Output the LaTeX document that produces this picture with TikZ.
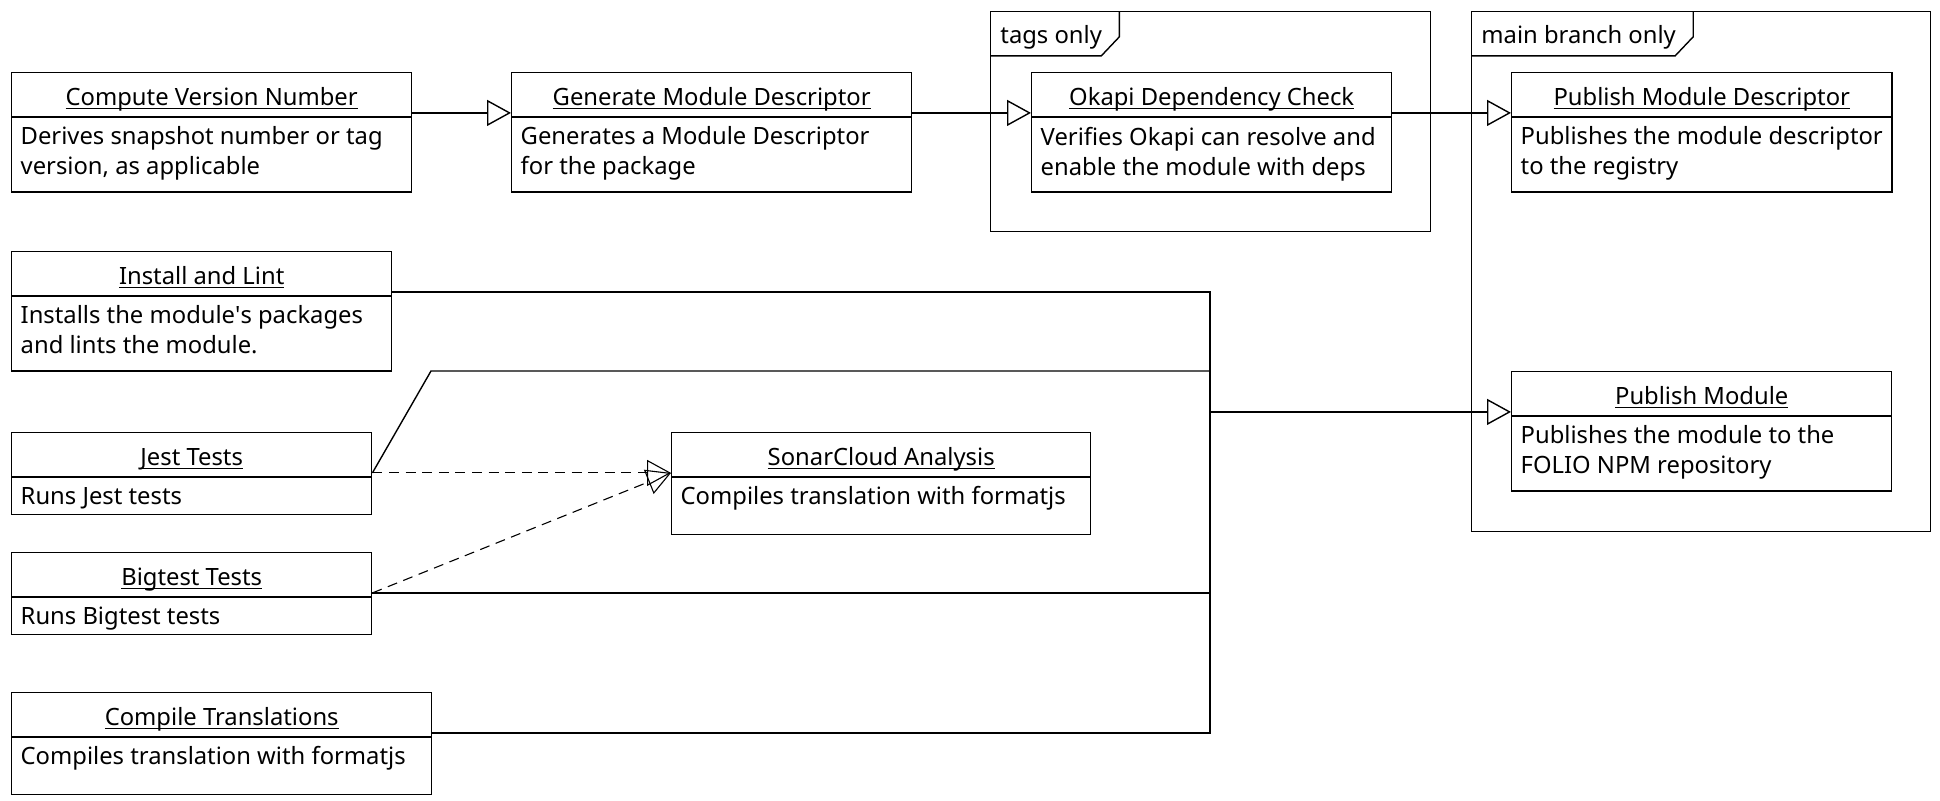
\documentclass[tikz,border=0pt]{standalone}
\usepackage{fontspec}
\setmainfont{Noto Sans}
\usetikzlibrary{arrows.meta, shapes.multipart}
\usetikzlibrary{positioning}

\newcommand\jobtitle[1]{\smash{\underline{\smash{#1}}}\rule[-0.6pt]{0pt}{12.2pt}}
\newcommand\jobline[1]{\smash{#1}\rule{0pt}{8.9pt}}
\newcommand\jobdepth[1]{\rule[-#1]{0pt}{#1}}

\tikzset{
    job/.style={rectangle split, rectangle split parts=2, draw, line width=0.7pt,
        rectangle split part align={center,left}, align=left, anchor=north west,
        inner xsep=4.5pt, inner ysep=4.6pt},
    frame/.style={draw, line width=0.7pt, anchor=north west, inner sep=0pt},
    tab/.style={anchor=north west, inner xsep=5pt, inner ysep=0pt, minimum height=22pt,
        text height=12pt, text depth=2pt},
    flow/.style={line width=0.7pt, -{Triangle[open, length=12pt, width=13pt]}},
    uses/.style={flow, line width=0.55pt, dash pattern=on 5pt off 3.3pt},
}

\begin{document}
\begin{tikzpicture}[x=0.5pt, y=-0.5pt, every node/.style={font=\fontsize{11.9}{15}\selectfont}]
    \useasboundingbox (0,0) rectangle (1940,800);
    % frames
    \node[frame, minimum width=220pt, minimum height=110pt] (tags) at (990,11) {};
    \node[tab] (tagslbl) at (tags.north west) {tags only};
    \draw[line width=0.7pt] ([xshift=3.5pt]tagslbl.north east) -- ([xshift=3.5pt,yshift=9.5pt]tagslbl.south east)
        -- ([xshift=-5.5pt]tagslbl.south east) -- (tagslbl.south west);
    \node[frame, minimum width=229.5pt, minimum height=260pt] (main) at (1471,11) {};
    \node[tab] (mainlbl) at (main.north west) {main branch only};
    \draw[line width=0.7pt] ([xshift=3.5pt]mainlbl.north east) -- ([xshift=3.5pt,yshift=9.5pt]mainlbl.south east)
        -- ([xshift=-5.5pt]mainlbl.south east) -- (mainlbl.south west);

    % jobs
    \node[job, minimum width=200pt] (version) at (11,72) {\jobtitle{Compute Version Number}\nodepart{two}Derives snapshot number or tag\\version, as applicable\jobdepth{3.6pt}};
    \node[job, minimum width=200pt] (descriptor) at (511,72) {\jobtitle{Generate Module Descriptor}\nodepart{two}Generates a Module Descriptor\\for the package\jobdepth{3.6pt}};
    \node[job, minimum width=180pt] (okapi) at (1031,72) {\jobtitle{Okapi Dependency Check}\nodepart{two}Verifies Okapi can resolve and\\enable the module with deps\jobdepth{3.6pt}};
    \node[job, minimum width=190pt] (pubdesc) at (1511,72) {\jobtitle{Publish Module Descriptor}\nodepart{two}Publishes the module descriptor\\to the registry\jobdepth{3.6pt}};
    \node[job, minimum width=190pt] (pubmod) at (1511,371) {\jobtitle{Publish Module}\nodepart{two}Publishes the module to the\\FOLIO NPM repository\jobdepth{3.6pt}};
    \node[job, minimum width=190pt] (lint) at (11,251) {\jobtitle{Install and Lint}\nodepart{two}Installs the module\textquotesingle s packages\\and lints the module.\jobdepth{3.6pt}};
    \node[job, minimum width=180pt] (jest) at (11,432) {\jobtitle{Jest Tests}\nodepart{two}\jobline{Runs Jest tests}};
    \node[job, minimum width=209.5pt] (sonar) at (671,432) {\jobtitle{SonarCloud Analysis}\nodepart{two}\jobline{Compiles translation with formatjs}\jobdepth{10pt}};
    \node[job, minimum width=180pt] (bigtest) at (11,552) {\jobtitle{Bigtest Tests}\nodepart{two}\jobline{Runs Bigtest tests}};
    \node[job, minimum width=210pt] (translate) at (11,692) {\jobtitle{Compile Translations}\nodepart{two}\jobline{Compiles translation with formatjs}\jobdepth{10pt}};

    % connectors
    \draw[flow] ([yshift=2pt]version.text split east) -- ([yshift=2pt]descriptor.text split west);
    \draw[flow] ([yshift=2pt]descriptor.text split east) -- ([yshift=2pt]okapi.text split west);
    \draw[flow] ([yshift=2pt]okapi.text split east) -- ([yshift=2pt]pubdesc.text split west);
    \path ([yshift=2pt]pubmod.text split west) ++(-301,0) coordinate (join);
    \coordinate (bend) at (431,371);
    \draw[line width=0.7pt] ([yshift=2pt]lint.text split east) -| (join);
    \draw[line width=0.7pt] ([yshift=2pt]jest.text split east) -- (bend) -| (join);
    \draw[line width=0.7pt] ([yshift=2pt]bigtest.text split east) -| (join);
    \draw[line width=0.7pt] ([yshift=2pt]translate.text split east) -| (join);
    \draw[flow] (join) -- ([yshift=2pt]pubmod.text split west);
    \draw[uses] ([yshift=2pt]jest.text split east) -- ([yshift=2pt]sonar.text split west);
    \draw[uses] ([yshift=2pt]bigtest.text split east) -- ([yshift=2pt]sonar.text split west);
\end{tikzpicture}
\end{document}
